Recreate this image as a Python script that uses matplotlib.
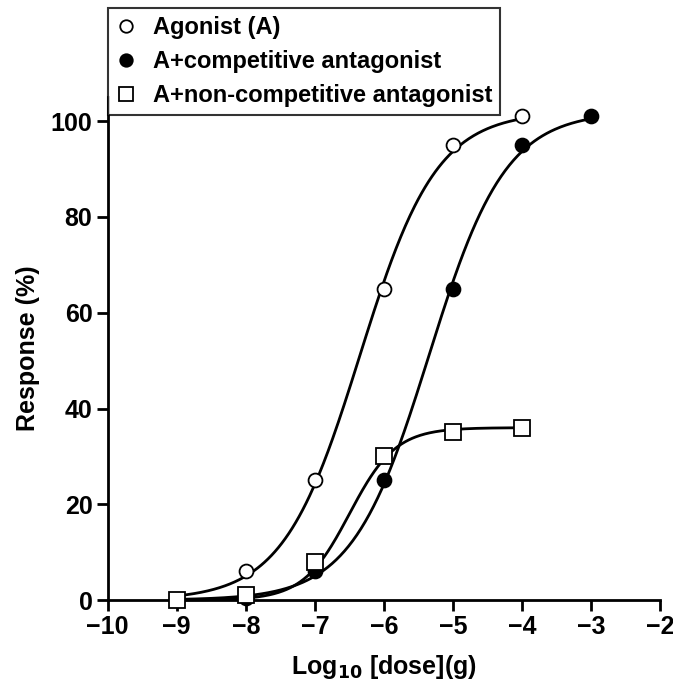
import numpy as np
import matplotlib
matplotlib.use('Agg')
import matplotlib.pyplot as plt

plt.rcParams['font.family'] = ['Liberation Sans', 'DejaVu Sans']
plt.rcParams['font.weight'] = 'bold'

# data points
log_dose = [-9, -8, -7, -6, -5, -4]
agonist = [0, 6, 25, 65, 95, 101]
log_dose_comp = [-8, -7, -6, -5, -4, -3]
competitive = [0.5, 6, 25, 65, 95, 101]
noncompetitive = [0, 1, 8, 30, 35, 36]

# fitted curve parameters (top, log EC50, hill slope, x range)
fit_agonist = [102, -6.35, 0.78, -9, -4]
fit_comp = [102, -5.35, 0.78, -9, -3]
fit_noncomp = [36, -6.5, 1.3, -9, -4]


def hill(p):
    top, ec50, n, x0, x1 = p
    x = np.linspace(x0, x1, 300)
    return x, top / (1 + 10 ** ((ec50 - x) * n))


fig = plt.figure(figsize=(6.73, 6.85), dpi=100)
ax = fig.add_axes([0.160, 0.124, 0.821, 0.734])

for p in (fit_agonist, fit_comp, fit_noncomp):
    x, y = hill(p)
    ax.plot(x, y, color='black', lw=2, clip_on=False, zorder=2)

ms = 10
ax.plot(log_dose, agonist, 'o', ms=ms, mfc='white', mec='black', mew=1.3,
        clip_on=False, zorder=3, label='Agonist (A)')
ax.plot(log_dose_comp, competitive, 'o', ms=ms, mfc='black', mec='black',
        mew=1.3, clip_on=False, zorder=3, label='A+competitive antagonist')
ax.plot(log_dose, noncompetitive, 's', ms=ms + 1, mfc='white', mec='black',
        mew=1.3, clip_on=False, zorder=3, label='A+non-competitive antagonist')

ax.set_xlim(-10, -2)
ax.set_ylim(0, 105)
ax.set_xticks(range(-10, -1))
ax.set_xticklabels([f'\u2212{abs(v)}' for v in range(-10, -1)])
ax.set_yticks(range(0, 101, 20))

for s in ('top', 'right'):
    ax.spines[s].set_visible(False)
for s in ('left', 'bottom'):
    ax.spines[s].set_linewidth(2)
ax.tick_params(direction='out', length=8, width=2, labelsize=18, pad=3)

ax.set_xlabel('Log$_{\\mathbf{10}}$ [dose](g)', fontsize=18, fontweight='bold', labelpad=10)
ax.set_ylabel('Response (%)', fontsize=18, fontweight='bold', labelpad=8)

leg = ax.legend(loc='upper left', bbox_to_anchor=(0.0, 1.177), fontsize=17,
                frameon=True, fancybox=False, handletextpad=0.7,
                borderpad=0.32, labelspacing=0.48, handlelength=0.9,
                borderaxespad=0, markerscale=0.9)
leg.get_frame().set_edgecolor('black')
leg.get_frame().set_linewidth(1.5)
for t in leg.get_texts():
    t.set_fontweight('bold')

fig.savefig('out.png', dpi=100)
